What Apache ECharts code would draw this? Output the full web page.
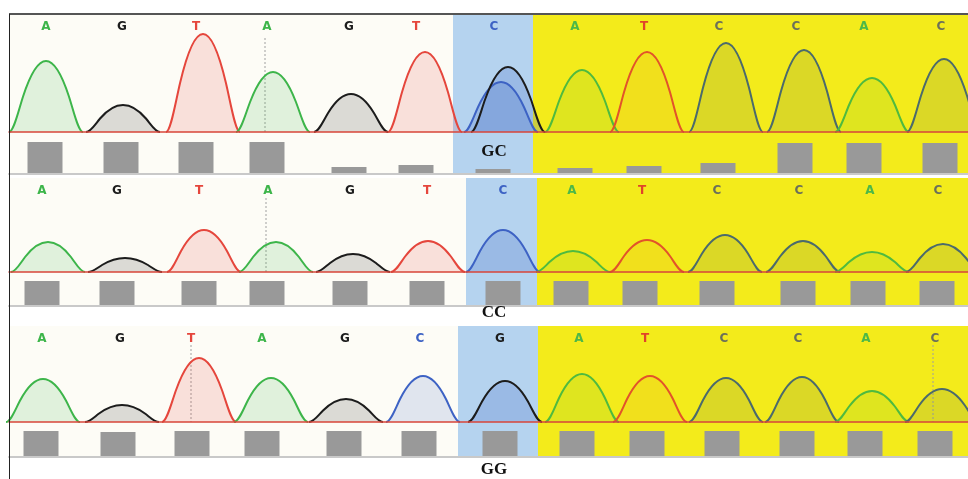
<!DOCTYPE html>
<html>
<head>
<meta charset="utf-8">
<script src="https://cdn.jsdelivr.net/npm/echarts@6/dist/echarts.min.js"></script>
<style>
  html, body { margin: 0; padding: 0; background: #ffffff; }
  #chart { width: 968px; height: 479px; }
</style>
</head>
<body>
<div id="chart"></div>
<script>
// scan position axis (trace units) shared by the three traces
const scanMin = 9;
const scanMax = 968;

// ---- trace 1 (GC) ----
const calls1 = ['A', 'G', 'T', 'A', 'G', 'T', 'C', 'A', 'T', 'C', 'C', 'A', 'C'];
const callPos1 = [46, 122, 196, 267, 349, 416, 494, 575, 644, 719, 796, 864, 941];
const peakDye1 = ['A', 'G', 'T', 'A', 'G', 'T', 'C', 'G', 'A', 'T', 'C', 'C', 'A', 'C'];
const peakPos1 = [46, 123, 203, 273, 351, 425, 501, 508, 582, 647, 726, 804, 872, 944];
const peakHeight1 = [71, 27, 98, 60, 38, 80, 50, 65, 62, 80, 89, 82, 54, 73];
const qualPos1 = [45, 121, 196, 267, 349, 416, 493, 575, 644, 718, 795, 864, 940];
const qual1 = [32, 32, 32, 32, 7, 9, 5, 6, 8, 11, 31, 31, 31];
const region1 = [453, 533];          // highlighted base, then yellow to the end
const marker1 = [[265, 94]];

// ---- trace 2 (CC) ----
const calls2 = ['A', 'G', 'T', 'A', 'G', 'T', 'C', 'A', 'T', 'C', 'C', 'A', 'C'];
const callPos2 = [42, 117, 199, 268, 350, 427, 503, 572, 642, 717, 799, 870, 938];
const peakDye2 = ['A', 'G', 'T', 'A', 'G', 'T', 'C', 'A', 'T', 'C', 'C', 'A', 'C'];
const peakPos2 = [48, 125, 204, 276, 353, 428, 503, 573, 647, 725, 803, 872, 943];
const peakHeight2 = [30, 14, 42, 30, 18, 31, 42, 21, 32, 37, 31, 20, 28];
const qualPos2 = [42, 117, 199, 267, 350, 427, 503, 571, 640, 717, 798, 868, 937];
const qual2 = [25, 25, 25, 25, 25, 25, 25, 25, 25, 25, 25, 25, 25];
const region2 = [466, 537];
const marker2 = [[266, 74]];

// ---- trace 3 (GG) ----
const calls3 = ['A', 'G', 'T', 'A', 'G', 'C', 'G', 'A', 'T', 'C', 'C', 'A', 'C'];
const callPos3 = [42, 120, 191, 262, 345, 420, 500, 579, 645, 724, 798, 866, 935];
const peakDye3 = ['A', 'G', 'T', 'A', 'G', 'C', 'G', 'A', 'T', 'C', 'C', 'A', 'C'];
const peakPos3 = [43, 122, 199, 271, 346, 423, 505, 582, 650, 726, 802, 872, 942];
const peakHeight3 = [43, 17, 64, 44, 23, 46, 41, 48, 46, 44, 45, 31, 33];
const qualPos3 = [41, 118, 192, 262, 344, 419, 500, 577, 647, 722, 797, 865, 935];
const qual3 = [26, 25, 26, 26, 26, 26, 26, 26, 26, 26, 26, 26, 26];
const region3 = [458, 538];
const marker3 = [[191, 77], [933, 77]];

const genotypes = ['GC', 'CC', 'GG'];

// layout of the three stacked traces (pixels)
const layout = [
  { top: 14, base: 132, bottom: 174, labelY: 152 },
  { top: 178, base: 272, bottom: 306, labelY: 313 },
  { top: 326, base: 422, bottom: 457, labelY: 470 }
];
const peakHalfWidth = 37;

const dyeColor = { A: '#3db54a', G: '#1c1c1c', T: '#e5463c', C: '#3d62c4' };
const dyeColorYellow = { A: '#4fba3f', G: '#1c1c1c', T: '#e2532a', C: '#4b6a6c' };
const fillAlphaYellow = { A: 0.12, G: 0.12, T: 0.07, C: 0.14 };
const letterColorYellow = { A: '#4cb848', G: '#222222', T: '#e0432a', C: '#6b705a' };
const bgColors = ['#fdfcf6', '#b5d3ef', '#f3eb1b'];

function rgba(hex, a) {
  const n = parseInt(hex.slice(1), 16);
  return 'rgba(' + (n >> 16) + ',' + ((n >> 8) & 255) + ',' + (n & 255) + ',' + a + ')';
}

const traces = [
  { calls: calls1, callPos: callPos1, dye: peakDye1, pos: peakPos1, h: peakHeight1, qPos: qualPos1, q: qual1, region: region1, marker: marker1 },
  { calls: calls2, callPos: callPos2, dye: peakDye2, pos: peakPos2, h: peakHeight2, qPos: qualPos2, q: qual2, region: region2, marker: marker2 },
  { calls: calls3, callPos: callPos3, dye: peakDye3, pos: peakPos3, h: peakHeight3, qPos: qualPos3, q: qual3, region: region3, marker: marker3 }
];

// rounded peak outline: bezier control points relative to centre/half-width/height
const peakShape = [
  [-1, 0], [-0.873, 0], [-0.747, 0.297], [-0.62, 0.5],
  [-0.413, 0.831], [-0.207, 1], [0, 1],
  [0.207, 1], [0.413, 0.831], [0.62, 0.5],
  [0.747, 0.297], [0.873, 0], [1, 0]
];

function peakPathData(api, c, h, w) {
  const p = peakShape.map(function (s) { return api.coord([c + s[0] * w, s[1] * h]); });
  let d = 'M' + p[0][0] + ' ' + p[0][1];
  for (let i = 1; i < p.length; i += 3) {
    d += ' C' + p[i][0] + ' ' + p[i][1] + ' ' + p[i + 1][0] + ' ' + p[i + 1][1] + ' ' + p[i + 2][0] + ' ' + p[i + 2][1];
  }
  return d;
}

function regionOf(x, region) {
  if (x >= region[1]) return 2;
  if (x >= region[0]) return 1;
  return 0;
}

const grids = [], xAxes = [], yAxes = [], series = [], graphics = [];

traces.forEach(function (t, k) {
  const L = layout[k];
  const peakGridH = L.base - L.top;
  const barGridH = L.bottom - L.base;
  const gPeak = grids.length;
  grids.push({ left: scanMin, right: 0, top: L.top, height: peakGridH });
  grids.push({ left: scanMin, right: 0, top: L.base, height: barGridH });
  const gBar = gPeak + 1;

  xAxes.push({
    type: 'value', gridIndex: gPeak, min: scanMin, max: scanMax,
    axisLine: { show: true, onZero: false, lineStyle: { color: '#d8463a', width: 1.5 } },
    axisTick: { show: false }, axisLabel: { show: false }, splitLine: { show: false }, z: 5
  });
  xAxes.push({
    type: 'value', gridIndex: gBar, min: scanMin, max: scanMax,
    axisLine: { show: true, onZero: false, lineStyle: { color: '#c9c9c9', width: 2 } },
    axisTick: { show: false }, axisLabel: { show: false }, splitLine: { show: false }, z: 5
  });
  yAxes.push({ type: 'value', gridIndex: gPeak, min: 0, max: peakGridH, show: false });
  yAxes.push({ type: 'value', gridIndex: gBar, min: 0, max: barGridH, show: false });

  const bands = [[scanMin, t.region[0], 0], [t.region[0], t.region[1], 1], [t.region[1], scanMax, 2]];
  [[gPeak, peakGridH], [gBar, barGridH]].forEach(function (g) {
    series.push({
      type: 'custom', xAxisIndex: g[0], yAxisIndex: g[0], silent: true, z: 1,
      data: bands,
      renderItem: function (params, api) {
        const a = api.coord([api.value(0), g[1]]);
        const b = api.coord([api.value(1), 0]);
        return {
          type: 'rect',
          shape: { x: a[0], y: a[1], width: b[0] - a[0] + 0.5, height: b[1] - a[1] },
          style: { fill: bgColors[api.value(2)] }
        };
      }
    });
  });

  // peaks
  series.push({
    type: 'custom', xAxisIndex: gPeak, yAxisIndex: gPeak, silent: true, z: 3,
    data: t.pos.map(function (x, i) { return [x, t.h[i], i]; }),
    encode: { x: 0, y: 1 },
    renderItem: function (params, api) {
      const x = api.value(0), h = api.value(1), i = api.value(2);
      const dye = t.dye[i];
      const reg = regionOf(x, t.region);
      const col = reg === 2 ? dyeColorYellow[dye] : dyeColor[dye];
      let fill;
      if (reg === 0) fill = rgba(col, 0.15);
      else if (reg === 1) fill = 'rgba(58,98,196,0.22)';
      else fill = rgba(col, fillAlphaYellow[dye]);
      const d = peakPathData(api, x, h, peakHalfWidth);
      return {
        type: 'group',
        children: [
          { type: 'path', shape: { pathData: d + ' Z' }, style: { fill: fill, stroke: null } },
          { type: 'path', shape: { pathData: d }, style: { fill: null, stroke: col, lineWidth: 2 } }
        ]
      };
    }
  });

  // dotted position markers
  series.push({
    type: 'custom', xAxisIndex: gPeak, yAxisIndex: gPeak, silent: true, z: 2,
    data: t.marker,
    renderItem: function (params, api) {
      const a = api.coord([api.value(0), api.value(1)]);
      const b = api.coord([api.value(0), 0]);
      return {
        type: 'line',
        shape: { x1: a[0], y1: a[1], x2: b[0], y2: b[1] },
        style: { stroke: '#a0a0a0', lineWidth: 1, lineDash: [2, 2] }
      };
    }
  });

  // base calls
  const letterLevel = L.base - (L.top + 13);
  series.push({
    type: 'custom', xAxisIndex: gPeak, yAxisIndex: gPeak, silent: true, z: 4,
    data: t.callPos.map(function (x, i) { return [x, letterLevel, i]; }),
    renderItem: function (params, api) {
      const x = api.value(0);
      const c = t.calls[api.value(2)];
      const p = api.coord([x, api.value(1)]);
      const col = regionOf(x, t.region) === 2 ? letterColorYellow[c] : dyeColor[c];
      return {
        type: 'text', x: p[0], y: p[1],
        style: { text: c, fill: col, font: 'bold 12px "DejaVu Sans"', align: 'center', verticalAlign: 'middle' }
      };
    }
  });

  // quality bars
  series.push({
    type: 'bar', xAxisIndex: gBar, yAxisIndex: gBar, silent: true, z: 3,
    barWidth: 35,
    itemStyle: { color: '#999999' },
    data: t.qPos.map(function (x, i) { return [x, t.q[i]]; })
  });

  graphics.push({
    type: 'text', x: 494, y: L.labelY, z: 10,
    style: { text: genotypes[k], fill: '#111111', font: 'bold 17px "Liberation Serif"', align: 'center', verticalAlign: 'middle' }
  });
});

// frame
graphics.push({ type: 'line', z: 10, shape: { x1: 9, y1: 14, x2: 968, y2: 14 }, style: { stroke: '#555555', lineWidth: 2 } });
graphics.push({ type: 'line', z: 10, shape: { x1: 9.5, y1: 14, x2: 9.5, y2: 479 }, style: { stroke: '#222222', lineWidth: 1 } });

const chart = echarts.init(document.getElementById('chart'), null, { renderer: 'canvas' });
chart.setOption({
  animation: false,
  backgroundColor: '#ffffff',
  grid: grids,
  xAxis: xAxes,
  yAxis: yAxes,
  series: series,
  graphic: graphics
});
</script>
</body>
</html>
